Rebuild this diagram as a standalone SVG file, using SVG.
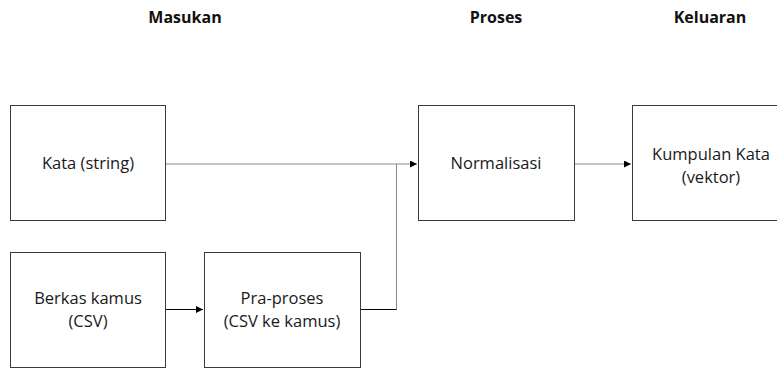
<svg xmlns="http://www.w3.org/2000/svg" width="777" height="370" viewBox="0 0 777 370">
<defs>
<style>
.box{fill:#fff;stroke:#3a3a3a;stroke-width:1}
.t{font-family:"Open Sans","Liberation Sans",sans-serif;font-size:16.5px;fill:#1a1a1a;text-anchor:middle}
.h{font-family:"Open Sans","Liberation Sans",sans-serif;font-size:16px;font-weight:bold;fill:#111;text-anchor:middle}
.g{fill:none;stroke:#888;stroke-width:1}
.k{fill:none;stroke:#000;stroke-width:1}
</style>
<marker id="arr" viewBox="0 0 10 10" refX="10" refY="5" markerWidth="7" markerHeight="7" markerUnits="userSpaceOnUse" orient="auto">
<path d="M0,0 L10,5 L0,10 z" fill="#000"/>
</marker>
</defs>
<rect width="777" height="370" fill="#fff"/>
<g id="headers">
<text class="h" x="185" y="23">Masukan</text>
<text class="h" x="496" y="23">Proses</text>
<text class="h" x="710" y="23">Keluaran</text>
</g>
<g id="connectors">
<path class="g" d="M166,164 L417,164" marker-end="url(#arr)"/>
<path class="k" d="M166,309.5 L203,309.5" marker-end="url(#arr)"/>
<path class="k" d="M361,309.5 L397,309.5"/>
<path class="g" d="M396.5,309.5 L396.5,164"/>
<path class="g" d="M575,164 L631,164" marker-end="url(#arr)"/>
</g>
<g id="kata">
<rect class="box" x="10.5" y="105.5" width="155" height="115"/>
<text class="t" x="88" y="169">Kata (string)</text>
</g>
<g id="berkas">
<rect class="box" x="10.5" y="252.5" width="155" height="115"/>
<text class="t" x="88" y="304">Berkas kamus</text>
<text class="t" x="88" y="327">(CSV)</text>
</g>
<g id="praproses">
<rect class="box" x="204.5" y="252.5" width="156" height="115"/>
<text class="t" x="282" y="304">Pra-proses</text>
<text class="t" x="282" y="327">(CSV ke kamus)</text>
</g>
<g id="normalisasi">
<rect class="box" x="418.5" y="105.5" width="156" height="115"/>
<text class="t" x="496" y="169">Normalisasi</text>
</g>
<g id="kumpulan">
<rect class="box" x="632.5" y="105.5" width="156" height="115"/>
<text class="t" x="711" y="160">Kumpulan Kata</text>
<text class="t" x="711" y="183">(vektor)</text>
</g>
</svg>
